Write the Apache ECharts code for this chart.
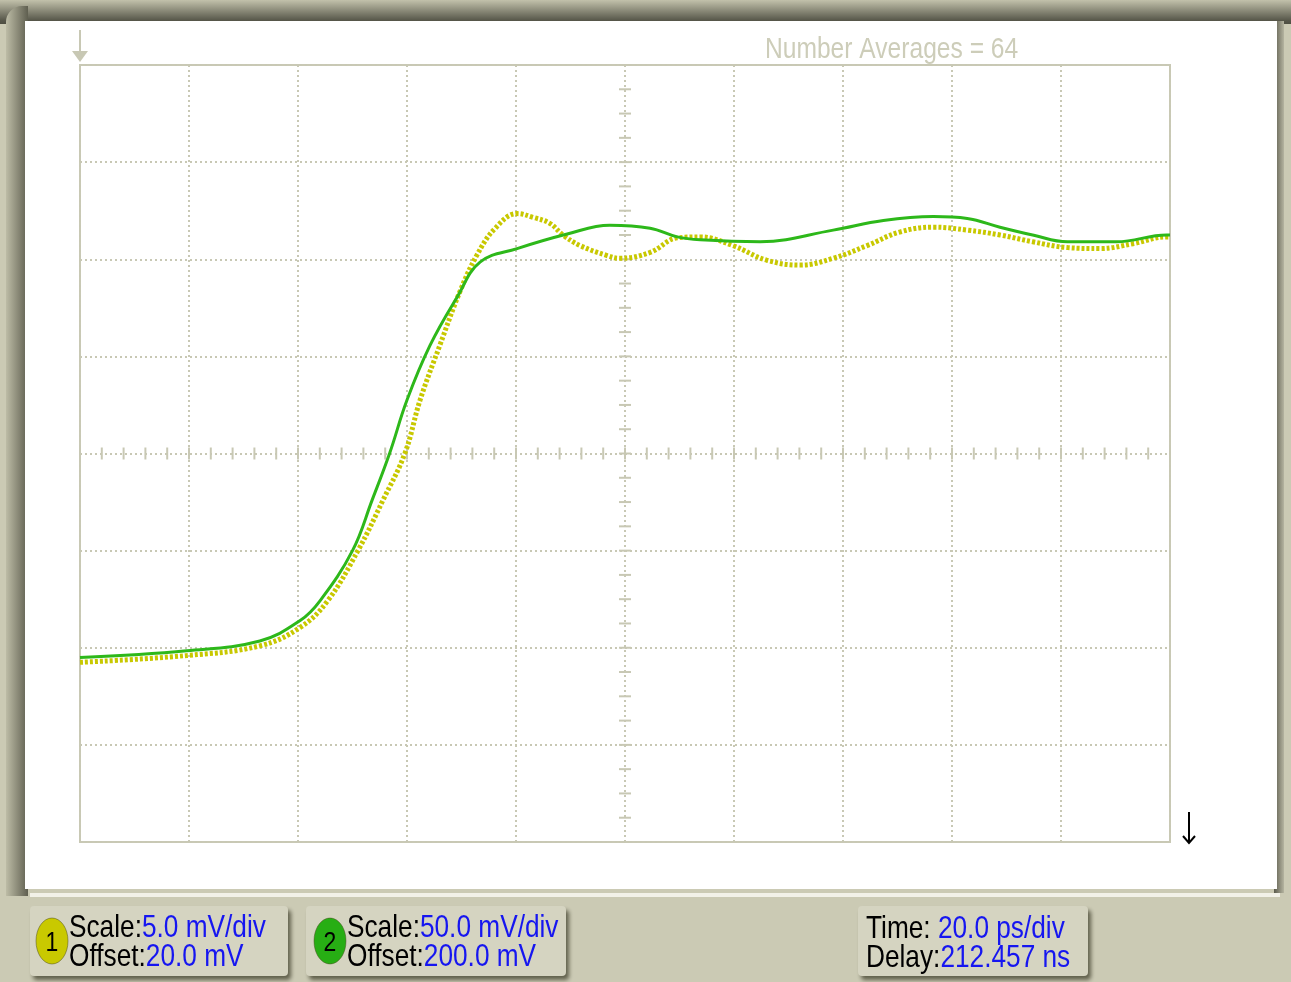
<!DOCTYPE html>
<html>
<head>
<meta charset="utf-8">
<script src="https://cdn.jsdelivr.net/npm/echarts@6/dist/echarts.min.js"></script>
<style>
  html, body { margin: 0; padding: 0; background: #cbcab4; }
  #chart1 { width: 1291px; height: 982px; }
</style>
</head>
<body>
<div id="chart1"></div>
<script>
// time in divisions (0..10), voltage in divisions (0..8, bottom = 0)
var greenX = [0, 0.98, 1.65, 2.02, 2.20, 2.50, 2.68, 2.84, 3.00, 3.21, 3.46, 3.67, 4.01, 4.47, 4.86, 5.23, 5.48, 5.69, 6.24, 6.91, 7.37, 7.83, 8.14, 8.44, 8.74, 9.06, 9.51, 9.97, 10];
var greenY = [1.90, 1.97, 2.07, 2.28, 2.48, 3.00, 3.52, 4.00, 4.55, 5.11, 5.61, 5.97, 6.11, 6.26, 6.35, 6.32, 6.23, 6.20, 6.18, 6.30, 6.40, 6.44, 6.42, 6.33, 6.25, 6.18, 6.18, 6.25, 6.25];

var yellowX = [0, 0.98, 1.65, 2.02, 2.27, 2.55, 2.78, 2.98, 3.12, 3.30, 3.49, 3.64, 3.81, 4.01, 4.16, 4.31, 4.43, 4.59, 4.83, 4.95, 5.23, 5.48, 5.69, 5.99, 6.30, 6.61, 6.91, 7.22, 7.52, 7.83, 8.14, 8.44, 8.74, 9.06, 9.36, 9.66, 9.97, 10];
var yellowY = [1.85, 1.92, 2.02, 2.21, 2.48, 3.00, 3.52, 4.00, 4.55, 5.11, 5.68, 6.04, 6.32, 6.47, 6.43, 6.37, 6.25, 6.14, 6.04, 6.01, 6.07, 6.22, 6.23, 6.14, 5.99, 5.94, 6.01, 6.14, 6.28, 6.33, 6.30, 6.25, 6.18, 6.12, 6.11, 6.16, 6.23, 6.23];

var ch1Label = ['Scale:', '5.0 mV/div', 'Offset:', '20.0 mV'];
var ch2Label = ['Scale:', '50.0 mV/div', 'Offset:', '200.0 mV'];
var timeLabel = ['Time: ', '20.0 ps/div', 'Delay:', '212.457 ns'];
var averagesText = 'Number Averages = 64';

function pairs(xs, ys) {
    var out = [];
    for (var i = 0; i < xs.length; i++) {
        out.push([xs[i], ys[i]]);
    }
    return out;
}

// small tick marks on the centre cross (5 per div across, 4 per div up)
var tickData = [];
for (var i = 0; i <= 50; i++) { tickData.push([i / 5, 4, 'h']); }
for (var j = 0; j <= 32; j++) { tickData.push([5, j / 4, 'v']); }

var gridCol = '#c8c8b4';
var font = '"Liberation Sans", Arial, sans-serif';
var narrow = 0.82;   // no narrow face installed, squeeze the normal one
var rich = {
    k: { fill: '#000', font: '32px ' + font },
    v: { fill: '#1616f0', font: '32px ' + font }
};

function button(x, y, w, h) {
    return {
        type: 'rect', z: -5,
        shape: { x: x, y: y, width: w, height: h, r: 4 },
        style: {
            fill: '#d5d4c1',
            shadowColor: 'rgba(60,60,40,0.75)', shadowBlur: 4,
            shadowOffsetX: 3, shadowOffsetY: 4
        }
    };
}

function label(x, y, l) {
    return {
        type: 'text', z: 10, x: x, y: y, scaleX: narrow,
        style: {
            text: '{k|' + l[0] + '}{v|' + l[1] + '}\n{k|' + l[2] + '}{v|' + l[3] + '}',
            rich: rich, lineHeight: 29, verticalAlign: 'middle'
        }
    };
}

function badge(cx, cy, col, num) {
    return [
        { type: 'ellipse', z: 5, shape: { cx: cx, cy: cy, rx: 16, ry: 23 },
          style: { fill: col, stroke: 'rgba(80,80,40,0.5)', lineWidth: 1 } },
        { type: 'text', z: 6, x: cx, y: cy + 2, scaleX: narrow,
          style: { text: num, font: '28px ' + font, fill: '#000', align: 'center', verticalAlign: 'middle' } }
    ];
}

var elements = [
    // frame
    { type: 'rect', z: -20, shape: { x: 0, y: 0, width: 1291, height: 24 },
      style: { fill: new echarts.graphic.LinearGradient(0, 0, 0, 1, [
          { offset: 0, color: '#c2c1ab' }, { offset: 0.85, color: '#57574a' }, { offset: 1, color: '#4e4e42' }]) } },
    { type: 'rect', z: -19, shape: { x: 6, y: 6, width: 22, height: 890, r: [16, 0, 0, 0] },
      style: { fill: new echarts.graphic.LinearGradient(0, 0, 1, 0, [
          { offset: 0, color: '#bdbca6' }, { offset: 1, color: '#5f5f50' }]) } },
    { type: 'rect', z: -18, shape: { x: 1274, y: 21, width: 10, height: 872 },
      style: { fill: new echarts.graphic.LinearGradient(0, 0, 1, 0, [
          { offset: 0, color: '#5a5a4c' }, { offset: 1, color: '#b5b4a0' }]) } },
    { type: 'rect', z: -17, shape: { x: 25, y: 21, width: 1252, height: 868 }, style: { fill: '#ffffff' } },
    { type: 'rect', z: -17, shape: { x: 30, y: 893, width: 1250, height: 4 }, style: { fill: '#f2f1e8' } },

    // ground marker top-left
    { type: 'line', z: 3, shape: { x1: 80, y1: 30, x2: 80, y2: 52 }, style: { stroke: gridCol, lineWidth: 2 } },
    { type: 'polygon', z: 3, shape: { points: [[72, 51], [88, 51], [80, 62]] }, style: { fill: gridCol } },

    // trigger marker bottom-right
    { type: 'line', z: 3, shape: { x1: 1189, y1: 812, x2: 1189, y2: 842 }, style: { stroke: '#000', lineWidth: 2 } },
    { type: 'polyline', z: 3, shape: { points: [[1183, 836], [1189, 843], [1195, 836]] }, style: { stroke: '#000', lineWidth: 2, fill: null } },

    { type: 'text', z: 3, x: 765, y: 50, scaleX: narrow,
      style: { text: averagesText, font: '30px ' + font, fill: '#cdcdb9', verticalAlign: 'middle' } },

    // bottom buttons
    button(30, 906, 258, 70),
    button(306, 906, 260, 70),
    button(858, 906, 230, 70),
    label(69, 943, ch1Label),
    label(347, 943, ch2Label),
    label(866, 944, timeLabel)
].concat(badge(52, 941, '#c9c900', '1'), badge(330, 941, '#27ae14', '2'));

var option1 = {
    animation: false,
    backgroundColor: '#cbcab4',
    grid: {
        left: 80, top: 65, width: 1090, height: 777,
        show: true, borderColor: '#c9c9b5', borderWidth: 2, backgroundColor: 'transparent'
    },
    xAxis: {
        type: 'value', min: 0, max: 10, interval: 1,
        axisLine: { show: false }, axisTick: { show: false }, axisLabel: { show: false },
        splitLine: { show: true, lineStyle: { color: gridCol, width: 2, type: [2, 3] } }
    },
    yAxis: {
        type: 'value', min: 0, max: 8, interval: 1,
        axisLine: { show: false }, axisTick: { show: false }, axisLabel: { show: false },
        splitLine: { show: true, lineStyle: { color: gridCol, width: 2, type: [2, 3] } }
    },
    graphic: { elements: elements },
    series: [
        {
            name: 'ticks', type: 'custom', z: 1, silent: true,
            data: tickData,
            renderItem: function (params, api) {
                var p = api.coord([api.value(0), api.value(1)]);
                var h = tickData[params.dataIndex][2] === 'h';
                return {
                    type: 'line',
                    shape: h ? { x1: p[0], y1: p[1] - 6, x2: p[0], y2: p[1] + 6 }
                             : { x1: p[0] - 6, y1: p[1], x2: p[0] + 6, y2: p[1] },
                    style: { stroke: gridCol, lineWidth: 2 }
                };
            }
        },
        {
            name: 'ch1', type: 'line', smooth: 0.4, symbol: 'none', z: 3,
            data: pairs(yellowX, yellowY),
            lineStyle: { color: '#c8c800', width: 5, type: [3, 2] }
        },
        {
            name: 'ch2', type: 'line', smooth: 0.4, symbol: 'none', z: 4,
            data: pairs(greenX, greenY),
            lineStyle: { color: '#2db81a', width: 3 }
        }
    ]
};

echarts.init(document.getElementById('chart1')).setOption(option1);
</script>
</body>
</html>
